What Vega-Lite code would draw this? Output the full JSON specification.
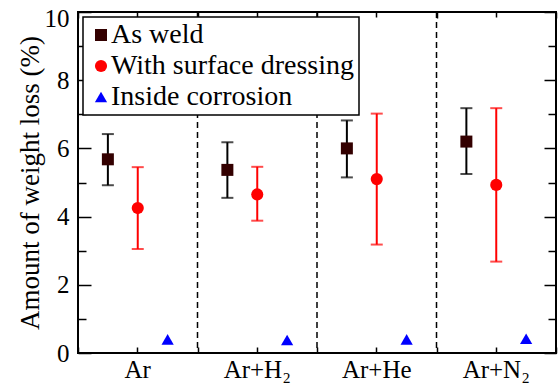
{
  "$schema": "https://vega.github.io/schema/vega-lite/v6.json",
  "width": 478,
  "height": 341,
  "autosize": {"type": "none"},
  "padding": {"left": 78, "top": 12, "right": 2, "bottom": 30},
  "config": {
    "font": "Liberation Serif, Times New Roman, serif",
    "view": {"stroke": "black", "strokeWidth": 2},
    "axis": {"domain": false, "grid": false, "tickColor": "black", "tickWidth": 1.5, "labelColor": "black", "labelFontSize": 25, "titleFontSize": 27, "titleFontWeight": "normal", "titleColor": "black", "labelFont": "Liberation Serif, Times New Roman, serif", "titleFont": "Liberation Serif, Times New Roman, serif"},
    "legend": {"orient": "none", "legendX": 5, "legendY": 5, "labelFontSize": 28, "labelFont": "Liberation Serif, Times New Roman, serif", "labelColor": "black", "strokeColor": "black", "strokeWidth": 1.5, "fillColor": "white", "padding": 4, "rowPadding": 3, "symbolOffset": 0, "labelOffset": -4, "symbolStrokeWidth": 0, "cornerRadius": 0, "labelLimit": 400}
  },
  "datasets": {
    "obs": [
      {"cat": "Ar", "series": "As weld", "value": 5.68, "lo": 4.92, "hi": 6.42},
      {"cat": "Ar", "series": "With surface dressing", "value": 4.25, "lo": 3.05, "hi": 5.45},
      {"cat": "Ar", "series": "Inside corrosion", "value": 0.40},
      {"cat": "Ar+H₂", "series": "As weld", "value": 5.37, "lo": 4.55, "hi": 6.18},
      {"cat": "Ar+H₂", "series": "With surface dressing", "value": 4.65, "lo": 3.88, "hi": 5.46},
      {"cat": "Ar+H₂", "series": "Inside corrosion", "value": 0.38},
      {"cat": "Ar+He", "series": "As weld", "value": 6.0, "lo": 5.15, "hi": 6.82},
      {"cat": "Ar+He", "series": "With surface dressing", "value": 5.1, "lo": 3.18, "hi": 7.02},
      {"cat": "Ar+He", "series": "Inside corrosion", "value": 0.40},
      {"cat": "Ar+N₂", "series": "As weld", "value": 6.2, "lo": 5.25, "hi": 7.18},
      {"cat": "Ar+N₂", "series": "With surface dressing", "value": 4.93, "lo": 2.68, "hi": 7.18},
      {"cat": "Ar+N₂", "series": "Inside corrosion", "value": 0.42}
    ],
    "div": [{"cat": "Ar+H₂"}, {"cat": "Ar+He"}, {"cat": "Ar+N₂"}]
  },
  "data": {"name": "obs"},
  "resolve": {"axis": {"x": "independent", "y": "independent"}},
  "layer": [
    {
      "data": {"name": "div"},
      "mark": {"type": "rule", "strokeDash": [6, 4], "strokeWidth": 1.5, "color": "black"},
      "encoding": {
        "x": {"field": "cat", "type": "nominal", "bandPosition": 0,
          "scale": {"domain": ["Ar", "Ar+H₂", "Ar+He", "Ar+N₂"], "paddingInner": 0, "paddingOuter": 0},
          "axis": {"orient": "bottom", "title": null, "labelAngle": 0, "tickSize": -6, "labelPadding": 10}}
      }
    },
    {
      "transform": [{"filter": "isValid(datum.lo)"}],
      "mark": {"type": "rule", "strokeWidth": 2},
      "encoding": {
        "x": {"field": "cat", "type": "nominal",
          "scale": {"domain": ["Ar", "Ar+H₂", "Ar+He", "Ar+N₂"], "paddingInner": 0, "paddingOuter": 0},
          "axis": {"orient": "top", "title": null, "labels": false, "tickSize": -5}},
        "xOffset": {"field": "series", "type": "nominal", "scale": {"domain": ["As weld", "With surface dressing", "Inside corrosion"], "paddingInner": 0, "paddingOuter": 0.5}},
        "y": {"field": "lo", "type": "quantitative", "scale": {"domain": [0, 10], "nice": false},
          "axis": {"orient": "left", "values": [0, 2, 4, 6, 8, 10], "tickSize": -13, "labelPadding": 22, "labelOffset": {"condition": {"test": "datum.value == 10", "value": 6}, "value": 0}, "title": "Amount of weight loss (%)", "titlePadding": 0}},
        "y2": {"field": "hi"},
        "stroke": {"field": "series", "type": "nominal", "scale": {"domain": ["As weld", "With surface dressing"], "range": ["black", "red"]}, "legend": null}
      }
    },
    {
      "transform": [{"filter": "isValid(datum.lo)"}],
      "mark": {"type": "tick", "size": 12, "thickness": 2},
      "encoding": {
        "x": {"field": "cat", "type": "nominal",
          "scale": {"domain": ["Ar", "Ar+H₂", "Ar+He", "Ar+N₂"], "paddingInner": 0, "paddingOuter": 0},
          "axis": {"orient": "bottom", "title": null, "labels": false, "tickBand": "extent", "tickSize": -6}},
        "xOffset": {"field": "series", "type": "nominal", "scale": {"domain": ["As weld", "With surface dressing", "Inside corrosion"], "paddingInner": 0, "paddingOuter": 0.5}},
        "y": {"field": "lo", "type": "quantitative", "scale": {"domain": [0, 10], "nice": false},
          "axis": {"orient": "left", "values": [1, 3, 5, 7, 9], "tickSize": -8, "labels": false, "title": null}},
        "fill": {"field": "series", "type": "nominal", "scale": {"domain": ["As weld", "With surface dressing"], "range": ["black", "red"]}, "legend": null}
      }
    },
    {
      "transform": [{"filter": "isValid(datum.hi)"}],
      "mark": {"type": "tick", "size": 12, "thickness": 2},
      "encoding": {
        "x": {"field": "cat", "type": "nominal",
          "scale": {"domain": ["Ar", "Ar+H₂", "Ar+He", "Ar+N₂"], "paddingInner": 0, "paddingOuter": 0},
          "axis": {"orient": "top", "title": null, "labels": false, "tickBand": "extent", "tickSize": -6}},
        "xOffset": {"field": "series", "type": "nominal", "scale": {"domain": ["As weld", "With surface dressing", "Inside corrosion"], "paddingInner": 0, "paddingOuter": 0.5}},
        "y": {"field": "hi", "type": "quantitative", "scale": {"domain": [0, 10], "nice": false},
          "axis": {"orient": "right", "values": [0, 2, 4, 6, 8, 10], "tickSize": -12, "labels": false, "title": null}},
        "fill": {"field": "series", "type": "nominal", "scale": {"domain": ["As weld", "With surface dressing"], "range": ["black", "red"]}, "legend": null}
      }
    },
    {
      "mark": {"type": "point", "filled": true, "opacity": 1, "strokeWidth": 0},
      "encoding": {
        "x": {"field": "cat", "type": "nominal",
          "scale": {"domain": ["Ar", "Ar+H₂", "Ar+He", "Ar+N₂"], "paddingInner": 0, "paddingOuter": 0},
          "axis": null},
        "xOffset": {"field": "series", "type": "nominal", "scale": {"domain": ["As weld", "With surface dressing", "Inside corrosion"], "paddingInner": 0, "paddingOuter": 0.5}},
        "y": {"field": "value", "type": "quantitative", "scale": {"domain": [0, 10], "nice": false},
          "axis": {"orient": "right", "values": [1, 3, 5, 7, 9], "tickSize": -8, "labels": false, "title": null}},
        "color": {"field": "series", "type": "nominal", "scale": {"domain": ["As weld", "With surface dressing", "Inside corrosion"], "range": ["#330000", "#ff0000", "#0000ff"]}, "legend": {"title": null}},
        "shape": {"field": "series", "type": "nominal", "scale": {"domain": ["As weld", "With surface dressing", "Inside corrosion"], "range": ["square", "circle", "triangle-up"]}, "legend": {"title": null}},
        "size": {"field": "series", "type": "nominal", "scale": {"domain": ["As weld", "With surface dressing", "Inside corrosion"], "range": [144, 150, 170]}, "legend": {"title": null}}
      }
    }
  ]
}
